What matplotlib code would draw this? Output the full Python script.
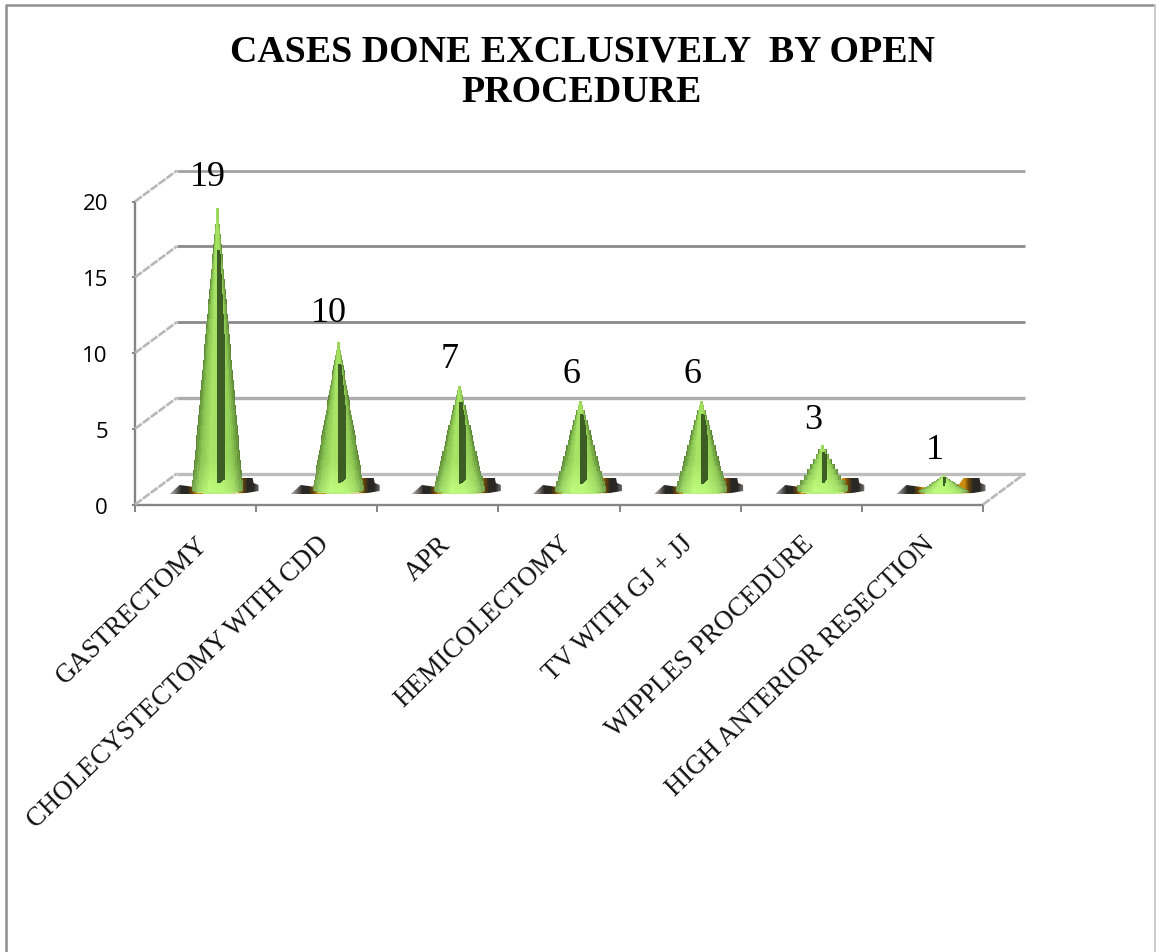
import numpy as np
import matplotlib
matplotlib.use("Agg")
import matplotlib.pyplot as plt
from matplotlib.lines import Line2D
from matplotlib.patches import Polygon
from matplotlib.transforms import Affine2D, IdentityTransform

categories = ["GASTRECTOMY", "CHOLECYSTECTOMY WITH CDD", "APR", "HEMICOLECTOMY",
              "TV WITH GJ + JJ", "WIPPLES PROCEDURE", "HIGH ANTERIOR RESECTION"]
cases = [19, 10, 7, 6, 6, 3, 1]
y_ticks = [0, 5, 10, 15, 20]

W, H = 1156, 953
DPI = 100
DEPTH_X, DEPTH_Y = 42, 31
SERIF = "Liberation Serif"

fig = plt.figure(figsize=(W / DPI, H / DPI), dpi=DPI, facecolor="white")


def box(left, top, right, bottom):
    return [left / W, 1 - bottom / H, (right - left) / W, (bottom - top) / H]


# chart frame
fig.add_artist(Line2D([6 / W, 6 / W, 1], [0, 1 - 5.5 / H, 1 - 5.5 / H], color="#8f8f8f", lw=1.8))
fig.add_artist(Line2D([1155 / W, 1155 / W], [0, 1 - 5.5 / H], color="#cccccc", lw=1.4))

ax = fig.add_axes(box(135, 202.5, 983, 505.5))
ax.set_xlim(-0.5, 6.5)
ax.set_ylim(0, 20)
ax.patch.set_visible(False)
for side in ("top", "right"):
    ax.spines[side].set_visible(False)
for side in ("left", "bottom"):
    ax.spines[side].set_color("#858585")
    ax.spines[side].set_linewidth(1.7)

ax.set_yticks(y_ticks)
ax.set_yticklabels([str(v) for v in y_ticks], fontfamily="Open Sans")
ax.tick_params(axis="y", length=2.5, width=1.4, color="#858585", pad=17, labelsize=16)
ax.set_xticks(np.arange(-0.5, 7, 1))
ax.set_xticklabels([])
ax.tick_params(axis="x", which="major", length=5, width=1.4, color="#858585")
ax.set_xticks(np.arange(len(categories)), minor=True)
ax.set_xticklabels(categories, minor=True, rotation=44, ha="right", rotation_mode="anchor",
                   fontfamily=SERIF, fontsize=19.3, color="#111111")
ax.tick_params(axis="x", which="minor", length=0, pad=19)

# back wall gridlines, pushed back by the chart depth
wall = ax.get_yaxis_transform() + Affine2D().translate(DEPTH_X, DEPTH_Y)
grid_style = {0: ("#bdbdbd", 2.4), 5: ("#adadad", 2.4), 10: ("#8a8a8a", 2.0),
              15: ("#8a8a8a", 2.0), 20: ("#a2a2a2", 2.0)}
for v in y_ticks:
    colour, lw = grid_style[v]
    ax.plot([0, 1], [v, v], transform=wall, color=colour, lw=lw, clip_on=False,
            solid_capstyle="butt", zorder=1)

# side wall and floor diagonals
starts = [ax.transData.transform((-0.5, v)) for v in y_ticks]
starts.append(ax.transData.transform((6.5, 0)))
for sx, sy in starts:
    fig.add_artist(Line2D([sx, sx + DEPTH_X], [sy, sy + DEPTH_Y], transform=IdentityTransform(),
                          color="#b8b8b8", lw=1.9, ls=(0, (3.2, 0.5))))

# value labels
for i, v in enumerate(cases):
    ax.annotate(str(v), (i, v), xytext=(12 * 0.72, 31.5 * 0.72), textcoords="offset points",
                ha="center", va="baseline", fontfamily=SERIF, fontsize=26, color="black",
                annotation_clip=False, zorder=3)

# cones live on their own scale, sitting on the middle of the floor
cone_ax = fig.add_axes(box(156, 491 - 20 * 14.8, 1004, 491))
cone_ax.set_axis_off()

STOPS_U = [-1.0, -0.72, -0.3, 0.15, 0.65, 1.0]
STOPS_RGB = np.array([[0x5c, 0x88, 0x38], [0x8a, 0xc4, 0x52], [0xa8, 0xe4, 0x66],
                      [0xa4, 0xe2, 0x62], [0x90, 0xca, 0x54], [0x5c, 0x88, 0x36]]) / 255
SLIT = np.array([0x3c, 0x5e, 0x24]) / 255
PX_X, PX_Y = 121.14, 14.8


def cone_image(value, half_px=25, below_px=4):
    """RGBA raster of one cone; row steps and colour bands give the faceted look."""
    height = value * PX_Y
    rows = int(height + below_px)
    img = np.zeros((rows, 2 * half_px, 4))
    xs = (np.arange(2 * half_px) + 0.5 - half_px)
    slit_px = 7 * min(1.0, (value / 10) ** 0.5)
    for r in range(rows):
        y = height - r - 0.5
        stepped = max(0.0, y - (y % 5)) if height > 30 else max(0.0, y)
        t = min(stepped / height, 1.0)
        hw = max(half_px * (1 - t) ** (1.0 if value > 3 else 1.25), 1.2)
        if y < 0:
            hw = half_px * np.sqrt(max(0, 1 - (y / below_px) ** 2))
        u = xs / hw
        inside = np.abs(u) <= 1
        band = np.round(u * 10) / 10
        rgb = np.stack([np.interp(band, STOPS_U, STOPS_RGB[:, c]) for c in range(3)], axis=1)
        rgb = rgb + 0.09 * np.clip(1 - y / 30, 0, 1.2)
        if y < -2:
            rgb = rgb * 0 + np.array([0xb8, 0xf0, 0x80]) / 255
        low, high = min(7, 0.35 * height), 0.85 * height
        if low <= y <= high:
            # pointed foot, then a strip that narrows toward the tip
            width = min(slit_px * min(1.0, (y - low + 1) / 5), 0.55 * hw)
            slit = (xs > 0.2) & (xs < 0.2 + width)
            rgb[slit] = SLIT
        img[r, :, :3] = np.clip(rgb, 0, 1)
        img[r, :, 3] = inside
    return img, half_px / PX_X, below_px / PX_Y


def shadow_image():
    """Horizontal ramp from the orange rim of a cone out to the soft black edge."""
    d = np.abs(np.arange(-47, 48))
    rgb = np.zeros((1, d.size, 4))
    orange, brown, dark = (np.array(c) / 255 for c in [(0xc8, 0x8c, 0x10), (0x70, 0x48, 0x08), (0x2a, 0x28, 0x24)])
    for c in range(3):
        rgb[0, :, c] = np.interp(d, [21, 25, 30, 47], [orange[c], brown[c], dark[c], dark[c]])
    rgb[0, :, 3] = np.interp(d, [36, 47], [1, 0.35])
    return rgb


for i, v in enumerate(cases):
    # dark footprint under the cone, with two lobes on the right-hand side
    outline = [(-47, -4), (-37, 5), (-22, 3), (0, 1), (16, 6), (20, 12), (36, 12), (37, 7),
               (42, 5), (42, -1), (30, -3), (0, -4)]
    foot = Polygon([(i + px / PX_X, py / PX_Y) for px, py in outline], transform=cone_ax.transData,
                   facecolor="none", edgecolor="none", clip_on=False)
    cone_ax.add_patch(foot)
    im = cone_ax.imshow(shadow_image(), extent=(i - 47 / PX_X, i + 47 / PX_X, -1, 1), aspect="auto",
                        interpolation="nearest", zorder=1)
    im.set_clip_path(foot)
    im.set_clip_box(fig.bbox)

    img, half_x, below = cone_image(v)
    cone = cone_ax.imshow(img, extent=(i - half_x, i + half_x, -below, v), aspect="auto",
                          interpolation="nearest", zorder=2)
    cone.set_clip_on(False)

cone_ax.set_xlim(-0.5, 6.5)
cone_ax.set_ylim(0, 20)

fig.text(582 / W, 1 - 62 / H, "CASES DONE EXCLUSIVELY  BY OPEN", ha="center", va="baseline",
         fontfamily=SERIF, fontweight="bold", fontsize=27.3, color="black")
fig.text(582 / W, 1 - 102 / H, "PROCEDURE", ha="center", va="baseline",
         fontfamily=SERIF, fontweight="bold", fontsize=27.3, color="black")

fig.savefig("out.png", dpi=DPI, facecolor="white")
